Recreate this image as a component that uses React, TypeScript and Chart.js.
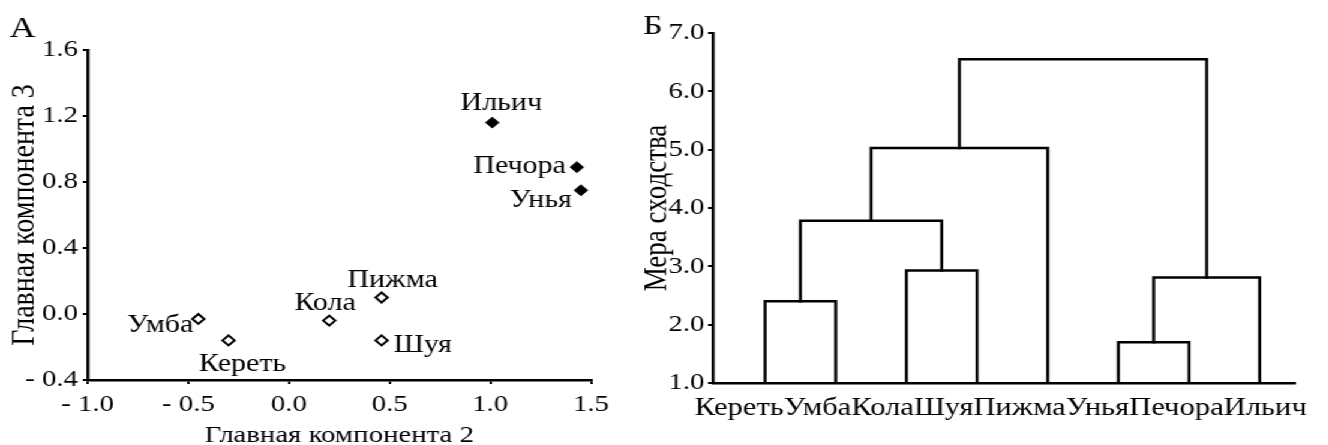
import React, { useEffect, useRef } from 'react';
import { Chart, registerables } from 'chart.js';

Chart.register(...registerables);

// ---------------- data: panel А (principal components) ----------------
const siteNames = ['Умба', 'Кереть', 'Кола', 'Пижма', 'Шуя', 'Ильич', 'Печора', 'Унья'];
const pc2Values = [-0.45, -0.3, 0.2, 0.46, 0.46, 1.01, 1.43, 1.45];
const pc3Values = [-0.03, -0.16, -0.04, 0.1, -0.16, 1.16, 0.89, 0.75];
const siteCluster = [1, 1, 1, 1, 1, 2, 2, 2];
const pc2Ticks = [-1.0, -0.5, 0.0, 0.5, 1.0, 1.5];
const pc3Ticks = [-0.4, 0.0, 0.4, 0.8, 1.2, 1.6];

// ---------------- data: panel Б (dendrogram) ----------------
const leafNames = ['Кереть', 'Умба', 'Кола', 'Шуя', 'Пижма', 'Унья', 'Печора', 'Ильич'];
// node ids: leaves 0..7, merges 8..14 (in order below)
const mergeLeft = [0, 2, 8, 10, 5, 12, 11];
const mergeRight = [1, 3, 9, 4, 6, 7, 13];
const mergeHeight = [2.4, 2.93, 3.78, 5.03, 1.7, 2.81, 6.55];
const similarityTicks = [1, 2, 3, 4, 5, 6, 7];
const similarityBase = 1.0;

// ---------------- styling / layout ----------------
const STRETCH = 1.2; // the reference is horizontally stretched
const FONT = '"Liberation Serif", "Times New Roman", serif';
const PAGE_W = 1328;
const PAGE_H = 445;
const LEFT_W = 533;
const RIGHT_W = 574;

type Placement = { align: CanvasTextAlign; dx: number; dy: number };
// offsets in screen pixels relative to the marker
const labelPlacement: Record<string, Placement> = {
  'Умба': { align: 'right', dx: -5, dy: 13 },
  'Кереть': { align: 'center', dx: 14, dy: 31 },
  'Кола': { align: 'center', dx: -4, dy: -11 },
  'Пижма': { align: 'center', dx: 11, dy: -11 },
  'Шуя': { align: 'left', dx: 12, dy: 12 },
  'Ильич': { align: 'center', dx: 9, dy: -13 },
  'Печора': { align: 'right', dx: -11, dy: 6 },
  'Унья': { align: 'right', dx: -9, dy: 17 },
};

const fmtSigned = (v: number) => {
  const s = Math.abs(v).toFixed(1);
  return v < -1e-9 ? '- ' + s : s;
};

const panelLetterPlugin = {
  id: 'panelLetter',
  afterDraw(chart: any, _args: any, opts: any) {
    if (!opts || !opts.text) return;
    const ctx = chart.ctx;
    ctx.save();
    ctx.font = `${opts.size}px ${FONT}`;
    ctx.fillStyle = '#000';
    ctx.textBaseline = 'alphabetic';
    ctx.textAlign = 'left';
    ctx.fillText(opts.text, opts.x, opts.y);
    ctx.restore();
  },
};

const pointLabelPlugin = {
  id: 'pointLabels',
  afterDatasetsDraw(chart: any, _args: any, opts: any) {
    if (!opts || !opts.enabled) return;
    const ctx = chart.ctx;
    ctx.save();
    ctx.font = `${opts.size}px ${FONT}`;
    ctx.fillStyle = '#000';
    ctx.textBaseline = 'alphabetic';
    chart.data.datasets.forEach((ds: any, di: number) => {
      const meta = chart.getDatasetMeta(di);
      meta.data.forEach((el: any, i: number) => {
        const name = ds.data[i].name;
        const p = labelPlacement[name];
        if (!p) return;
        ctx.textAlign = p.align;
        ctx.fillText(name, el.x + p.dx / STRETCH, el.y + p.dy);
      });
    });
    ctx.restore();
  },
};

const leafRowPlugin = {
  id: 'leafRow',
  afterDraw(chart: any, _args: any, opts: any) {
    if (!opts || !opts.enabled) return;
    const ctx = chart.ctx;
    const area = chart.chartArea;
    ctx.save();
    ctx.font = `${opts.size}px ${FONT}`;
    ctx.fillStyle = '#000';
    ctx.textBaseline = 'alphabetic';
    ctx.textAlign = 'left';
    let x = area.left + opts.dx;
    leafNames.forEach((n) => {
      ctx.fillText(n, x, area.bottom + opts.dy);
      x += ctx.measureText(n).width;
    });
    ctx.restore();
  },
};

function makeScatterConfig(): any {
  const idx = siteNames.map((_, i) => i);
  const mk = (cluster: number) =>
    idx
      .filter((i) => siteCluster[i] === cluster)
      .map((i) => ({ x: pc2Values[i], y: pc3Values[i], name: siteNames[i] }));
  return {
    type: 'scatter',
    data: {
      datasets: [
        {
          data: mk(1),
          pointStyle: 'rectRot',
          pointRadius: 5,
          backgroundColor: '#fff',
          borderColor: '#000',
          borderWidth: 2,
        },
        {
          data: mk(2),
          pointStyle: 'rectRot',
          pointRadius: 5.5,
          backgroundColor: '#000',
          borderColor: '#000',
          borderWidth: 1,
        },
      ],
    },
    options: {
      responsive: false,
      animation: false,
      events: [],
      layout: { padding: { top: 50, right: LEFT_W - 591 / STRETCH, left: 0, bottom: 0 } },
      plugins: {
        legend: { display: false },
        tooltip: { enabled: false },
        panelLetter: { text: 'А', x: 8, y: 37, size: 30 },
        pointLabels: { enabled: true, size: 25 },
        leafRow: { enabled: false },
      },
      scales: {
        x: {
          type: 'linear',
          min: pc2Ticks[0],
          max: pc2Ticks[pc2Ticks.length - 1],
          afterBuildTicks: (s: any) => {
            s.ticks = pc2Ticks.map((v) => ({ value: v }));
          },
          afterFit: (s: any) => {
            s.height = PAGE_H - 380;
          },
          ticks: { callback: (v: number) => fmtSigned(v), font: { size: 24, family: FONT }, color: '#000', padding: 6, maxRotation: 0 },
          grid: { drawOnChartArea: false, drawTicks: true, tickLength: 4, color: '#000', lineWidth: 2 },
          border: { display: true, color: '#000', width: 2.5 },
          title: {
            display: true,
            text: 'Главная компонента 2',
            color: '#000',
            font: { size: 24, family: FONT, lineHeight: 0.8 },
            padding: { top: 0, bottom: 0 },
          },
        },
        y: {
          type: 'linear',
          min: pc3Ticks[0],
          max: pc3Ticks[pc3Ticks.length - 1],
          afterBuildTicks: (s: any) => {
            s.ticks = pc3Ticks.map((v) => ({ value: v }));
          },
          afterFit: (s: any) => {
            s.width = Math.round(88 / STRETCH);
          },
          ticks: { callback: (v: number) => fmtSigned(v), font: { size: 24, family: FONT }, color: '#000', padding: 4 },
          grid: { drawOnChartArea: false, drawTicks: true, tickLength: 4, color: '#000', lineWidth: 2 },
          border: { display: true, color: '#000', width: 2.5 },
          title: {
            display: true,
            text: 'Главная компонента 3',
            color: '#000',
            font: { size: 28, family: FONT, lineHeight: 1 },
            padding: { top: 7, bottom: 0 },
          },
        },
      },
    },
    plugins: [panelLetterPlugin, pointLabelPlugin, leafRowPlugin],
  };
}

function buildDendrogramSegments() {
  const nodeX: number[] = leafNames.map((_, i) => i);
  const nodeY: number[] = leafNames.map(() => similarityBase);
  const segs: { x: number; y: number }[][] = [];
  mergeHeight.forEach((h, k) => {
    const a = mergeLeft[k];
    const b = mergeRight[k];
    segs.push([
      { x: nodeX[a], y: nodeY[a] },
      { x: nodeX[a], y: h },
      { x: nodeX[b], y: h },
      { x: nodeX[b], y: nodeY[b] },
    ]);
    nodeX.push((nodeX[a] + nodeX[b]) / 2);
    nodeY.push(h);
  });
  return segs;
}

function makeDendrogramConfig(): any {
  const segs = buildDendrogramSegments();
  const rightOffset = LEFT_W * STRETCH; // screen x of this canvas's left edge
  return {
    type: 'line',
    data: {
      datasets: segs.map((s) => ({
        data: s,
        borderColor: '#000',
        borderWidth: 2.5,
        pointRadius: 0,
        fill: false,
        tension: 0,
        borderJoinStyle: 'miter',
        borderCapStyle: 'square',
      })),
    },
    options: {
      responsive: false,
      animation: false,
      events: [],
      layout: { padding: { top: 33, right: RIGHT_W - (1295 - rightOffset) / STRETCH, left: 0, bottom: 0 } },
      plugins: {
        legend: { display: false },
        tooltip: { enabled: false },
        panelLetter: { text: 'Б', x: 3, y: 34, size: 28 },
        pointLabels: { enabled: false },
        leafRow: { enabled: true, size: 25.5, dx: -15, dy: 32 },
      },
      scales: {
        x: {
          type: 'linear',
          min: -0.74,
          max: leafNames.length - 0.5,
          afterFit: (s: any) => {
            s.height = PAGE_H - 383;
          },
          ticks: { display: false },
          grid: { display: false },
          border: { display: true, color: '#000', width: 2.5 },
        },
        y: {
          type: 'linear',
          min: similarityTicks[0],
          max: similarityTicks[similarityTicks.length - 1],
          afterBuildTicks: (s: any) => {
            s.ticks = similarityTicks.map((v) => ({ value: v }));
          },
          afterFit: (s: any) => {
            s.width = Math.round((713 - rightOffset) / STRETCH);
          },
          ticks: { callback: (v: number) => v.toFixed(1), font: { size: 24, family: FONT }, color: '#000', padding: 3 },
          grid: { drawOnChartArea: false, drawTicks: true, tickLength: 4, color: '#000', lineWidth: 2 },
          border: { display: true, color: '#000', width: 2.5 },
          title: {
            display: true,
            text: 'Мера сходства',
            color: '#000',
            font: { size: 27, family: FONT, lineHeight: 1 },
            padding: { top: 1, bottom: 0 },
          },
        },
      },
    },
    plugins: [panelLetterPlugin, pointLabelPlugin, leafRowPlugin],
  };
}

export default function App() {
  const leftRef = useRef<HTMLCanvasElement>(null);
  const rightRef = useRef<HTMLCanvasElement>(null);

  useEffect(() => {
    Chart.defaults.font.family = FONT;
    Chart.defaults.color = '#000';
    const c1 = new Chart(leftRef.current as HTMLCanvasElement, makeScatterConfig());
    const c2 = new Chart(rightRef.current as HTMLCanvasElement, makeDendrogramConfig());
    return () => {
      c1.destroy();
      c2.destroy();
    };
  }, []);

  return (
    <div
      style={{
        position: 'absolute',
        left: 0,
        top: 0,
        width: PAGE_W / STRETCH,
        height: PAGE_H,
        transform: `scaleX(${STRETCH})`,
        transformOrigin: '0 0',
        background: '#fff',
        overflow: 'hidden',
      }}
    >
      <canvas
        ref={leftRef}
        width={LEFT_W}
        height={PAGE_H}
        style={{ position: 'absolute', left: 0, top: 0, width: LEFT_W, height: PAGE_H }}
      />
      <canvas
        ref={rightRef}
        width={RIGHT_W}
        height={PAGE_H}
        style={{ position: 'absolute', left: LEFT_W, top: 0, width: RIGHT_W, height: PAGE_H }}
      />
    </div>
  );
}
